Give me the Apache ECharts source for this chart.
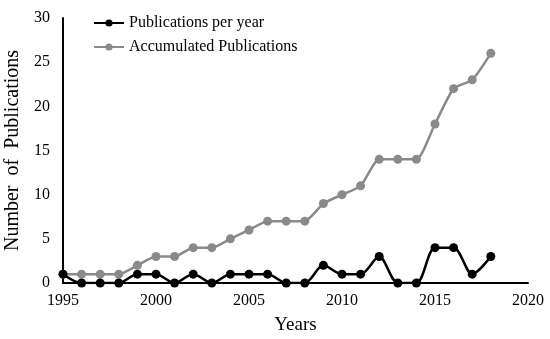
<!DOCTYPE html>
<html><head><meta charset="utf-8">
<script src="https://cdn.jsdelivr.net/npm/echarts@6/dist/echarts.min.js"></script>
<style>html,body{margin:0;padding:0;background:#fff}#c{width:550px;height:339px}</style>
</head><body><div id="c"></div>
<script>
const years = [1995,1996,1997,1998,1999,2000,2001,2002,2003,2004,2005,2006,2007,2008,2009,2010,2011,2012,2013,2014,2015,2016,2017,2018];
const perYear = [1,0,0,0,1,1,0,1,0,1,1,1,0,0,2,1,1,3,0,0,4,4,1,3];
const accumulated = [1,1,1,1,2,3,3,4,4,5,6,7,7,7,9,10,11,14,14,14,18,22,23,26];
const seriesNames = ['Publications per year','Accumulated Publications'];
const font = 'Liberation Serif, Times New Roman, serif';
const chart = echarts.init(document.getElementById('c'));
chart.setOption({
  animation:false,
  backgroundColor:'#fff',
  grid:{left:63,right:22,top:18,bottom:56,containLabel:false,outerBoundsMode:'none'},
  legend:{
    left:88, top:10, orient:'vertical', itemGap:8, itemWidth:30, itemHeight:9,
    textStyle:{fontFamily:font,fontSize:16,color:'#000'},
    data:seriesNames
  },
  xAxis:{
    type:'value', min:1995, max:2020, interval:5,
    name:'Years', nameLocation:'middle', nameGap:33,
    nameTextStyle:{fontFamily:font,fontSize:19,color:'#000'},
    axisLine:{lineStyle:{color:'#000',width:2}},
    axisTick:{show:false}, splitLine:{show:false},
    axisLabel:{fontFamily:font,fontSize:16,color:'#000',margin:10,formatter:v=>String(v)}
  },
  yAxis:{
    type:'value', min:0, max:30, interval:5,
    name:'Number  of  Publications', nameLocation:'middle', nameGap:37,
    nameTextStyle:{fontFamily:font,fontSize:20,color:'#000'},
    axisLine:{show:true,lineStyle:{color:'#000',width:2}},
    axisTick:{show:false}, splitLine:{show:false},
    axisLabel:{fontFamily:font,fontSize:16,color:'#000',margin:13}
  },
  series:[
    {name:seriesNames[0], type:'line', smooth:0.3, symbol:'circle', symbolSize:9,
     color:'#000', lineStyle:{width:2.5,color:'#000'}, itemStyle:{color:'#000'},
     data:years.map((y,i)=>[y,perYear[i]]), z:3},
    {name:seriesNames[1], type:'line', smooth:0.2, symbol:'circle', symbolSize:9,
     color:'#8a8a8a', lineStyle:{width:2.5,color:'#8a8a8a'}, itemStyle:{color:'#8a8a8a'},
     data:years.map((y,i)=>[y,accumulated[i]]), z:2}
  ]
});
</script></body></html>
